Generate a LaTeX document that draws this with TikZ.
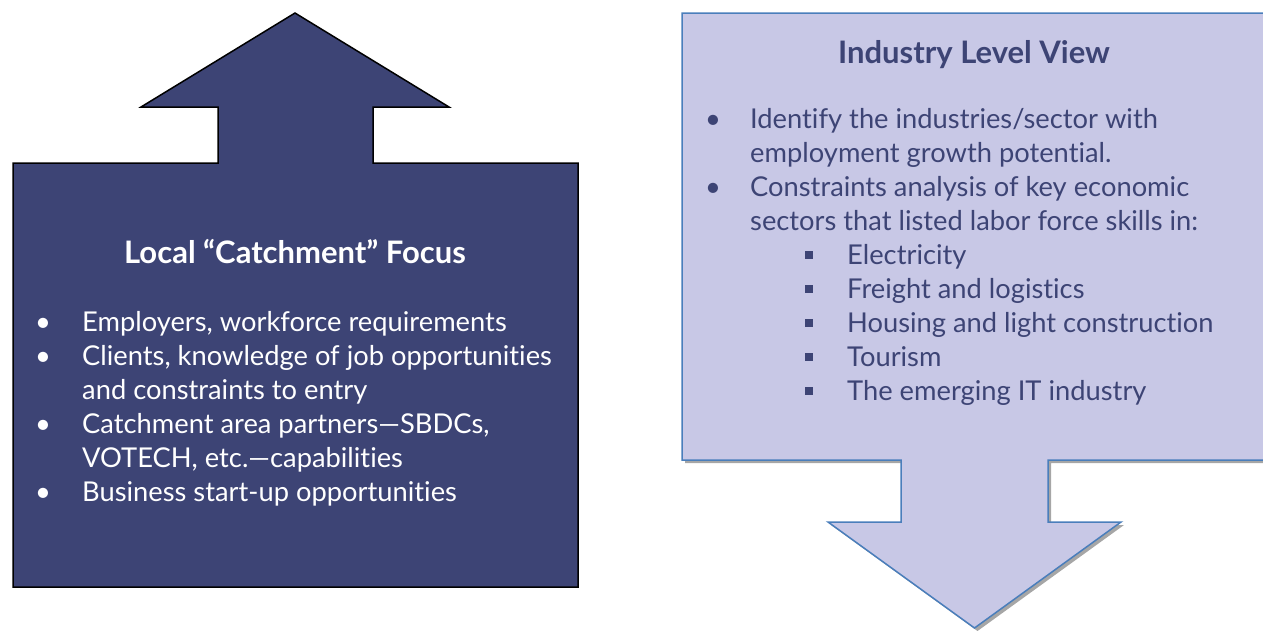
\documentclass[tikz,border=0pt]{standalone}
\usepackage{fontspec}
\setmainfont{Lato}[Ligatures=NoCommon]
\definecolor{navyfill}{HTML}{3D4475}
\definecolor{lavfill}{HTML}{C8C8E6}
\definecolor{edgeblue}{HTML}{4A7EBB}
\definecolor{shadowgray}{HTML}{A6A6A6}
\definecolor{inktext}{HTML}{3D4475}
\tikzset{
  txt/.style={anchor=base west, inner sep=0pt, font=\fontsize{27.3}{32}\selectfont},
  ttl/.style={anchor=base, inner sep=0pt, font=\fontsize{31}{36}\selectfont\bfseries},
  lefttxt/.style={txt, text=white},
  righttxt/.style={txt, text=inktext},
  sqbullet/.style={anchor=center, fill=inktext, inner sep=0pt, minimum size=8pt},
}
\begin{document}
\begin{tikzpicture}[x=1pt,y=-1pt]
\useasboundingbox (0,0) rectangle (1263,630);

% up arrow callout
\draw[fill=navyfill, draw=black, line width=1.5pt, line join=miter]
  (13,163) -- (218,163) -- (218,107) -- (141,107) -- (295,13) -- (449,107)
  -- (373,107) -- (373,163) -- (578,163) -- (578,587) -- (13,587) -- cycle;

% down arrow callout with its shadow
\fill[shadowgray]
  ([shift={(3,3)}]682,13) -- ++(585,0) -- ++(0,447) -- ++(-219,0) -- ++(0,62)
  -- ++(73,0) -- ++(-146.5,106) -- ++(-146.5,-106) -- ++(73,0) -- ++(0,-62)
  -- ++(-219,0) -- cycle;
\draw[fill=lavfill, draw=edgeblue, line width=1.5pt, line join=miter]
  (682,13) -- (1267,13) -- (1267,460) -- (1048,460) -- (1048,522) -- (1121,522)
  -- (974.5,628) -- (828,522) -- (901,522) -- (901,460) -- (682,460) -- cycle;

% left texts
\node[ttl, text=white] (ltitle) at (295,263) {Local “Catchment” Focus};
\foreach \y/\b/\t [count=\i] in {
   331/1/{Employers, workforce requirements},
   365/1/{Clients, knowledge of job opportunities},
   399/0/{and constraints to entry},
   433/1/{Catchment area partners—SBDCs,},
   467/0/{VOTECH, etc.—capabilities},
   501/1/{Business start-up opportunities}} {
  \ifnum\b=1 \node[lefttxt] (lb\i) at (35,\y) {•}; \fi
  \node[lefttxt] (lt\i) at (82,\y) {\t};
}

% right texts
\node[ttl, text=inktext] (rtitle) at (974,63) {Industry Level View};
\foreach \y/\b/\t [count=\i] in {
   128/1/{Identify the industries/sector with},
   162/0/{employment growth potential.},
   196/1/{Constraints analysis of key economic},
   230/0/{sectors that listed labor force skills in:}} {
  \ifnum\b=1 \node[righttxt] (rb\i) at (705,\y) {•}; \fi
  \node[righttxt] (rt\i) at (750,\y) {\t};
}
\foreach \y/\t [count=\i] in {
   264/{Electricity},
   298/{Freight and logistics},
   332/{Housing and light construction},
   366/{Tourism},
   400/{The emerging IT industry}} {
  \node[sqbullet] (sb\i) at (809,\y-9) {};
  \node[righttxt] (st\i) at (847,\y) {\t};
}
\end{tikzpicture}
\end{document}
